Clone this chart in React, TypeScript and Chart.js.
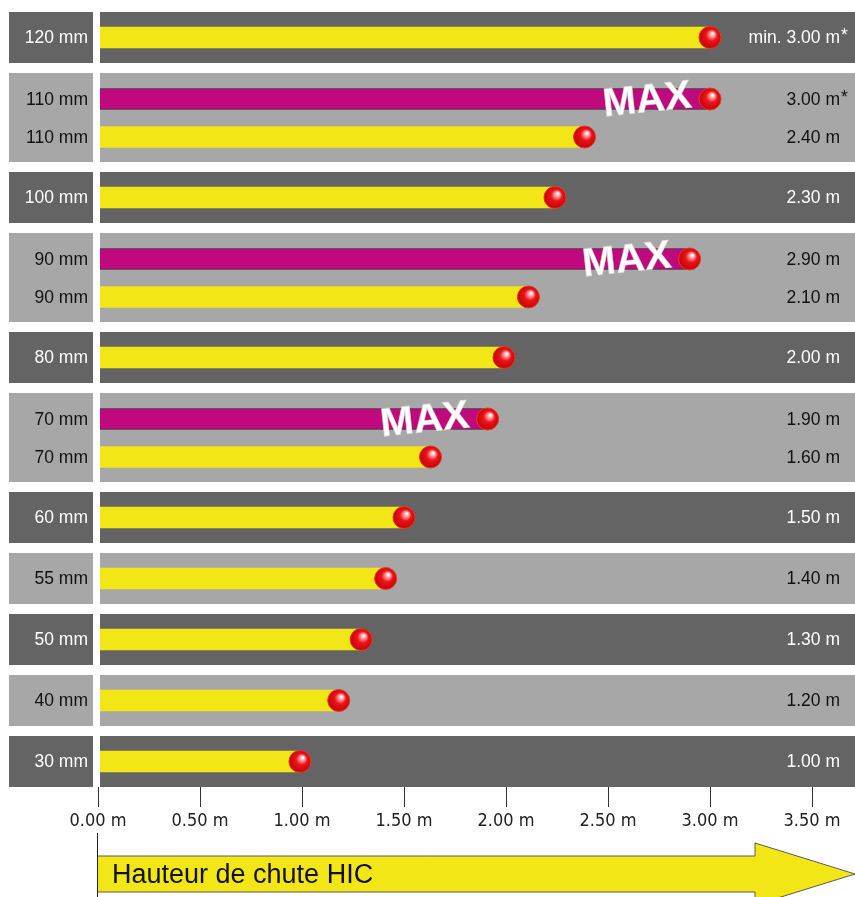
import React, { useEffect, useRef } from "react";
import { Chart, registerables } from "chart.js";

Chart.register(...registerables);

// ---- data ----
const thicknessLabels = [
  "120 mm", "110 mm", "110 mm", "100 mm", "90 mm", "90 mm", "80 mm",
  "70 mm", "70 mm", "60 mm", "55 mm", "50 mm", "40 mm", "30 mm",
];
const groupIndex = [0, 1, 1, 2, 3, 3, 4, 5, 5, 6, 7, 8, 9, 10];
const isMax = [false, true, false, false, true, false, false, true, false, false, false, false, false, false];
const dropHeights = [3.0, 3.0, 2.385, 2.24, 2.9, 2.11, 1.99, 1.91, 1.63, 1.5, 1.41, 1.29, 1.18, 0.99];
const valueLabels = [
  "min. 3.00 m*", "3.00 m*", "2.40 m", "2.30 m", "2.90 m", "2.10 m", "2.00 m",
  "1.90 m", "1.60 m", "1.50 m", "1.40 m", "1.30 m", "1.20 m", "1.00 m",
];
const tickValues = [0, 0.5, 1, 1.5, 2, 2.5, 3, 3.5];
const axisTitle = "Hauteur de chute HIC";
const maxWord = "MAX";

// ---- styling / layout ----
const FONT = '"Liberation Sans", Arial, Helvetica, sans-serif';
const NARROW = '"Liberation Sans Narrow", "DejaVu Sans Condensed", "Liberation Sans", sans-serif';
const DARK = "#646464";
const LIGHT = "#a7a7a7";
const YELLOW = "#f3e617";
const MAGENTA = "#c0097d";
const W = 855;
const H = 897;
const SINGLE = 5.1;
const DOUBLE = 8.9;
const GAP = 1.0;
const PAIR_OFFSETS = [-1.85, 1.95];
const PX_PER_M = 204;
const LEFT = 98;

function buildLayout() {
  const nGroups = Math.max(...groupIndex) + 1;
  const bands: { start: number; end: number; dark: boolean }[] = [];
  const centers: number[] = new Array(groupIndex.length).fill(0);
  let pos = 0;
  for (let g = 0; g < nGroups; g++) {
    const rows = groupIndex.map((gi, i) => (gi === g ? i : -1)).filter((i) => i >= 0);
    const h = rows.length === 1 ? SINGLE : DOUBLE;
    bands.push({ start: pos, end: pos + h, dark: g % 2 === 0 });
    if (rows.length === 1) centers[rows[0]] = pos + h / 2;
    else rows.forEach((r, k) => (centers[r] = pos + h / 2 + PAIR_OFFSETS[k]));
    pos += h + GAP;
  }
  return { bands, centers, total: pos - GAP };
}

export default function App() {
  const ref = useRef<HTMLCanvasElement | null>(null);

  useEffect(() => {
    if (!ref.current) return;
    const { bands, centers, total } = buildLayout();

    const decor = {
      id: "decor",
      beforeDatasetsDraw(chart: any) {
        const ctx = chart.ctx;
        const y = chart.scales.y;
        const a = chart.chartArea;
        ctx.save();
        bands.forEach((b) => {
          const t = y.getPixelForValue(b.start);
          const bt = y.getPixelForValue(b.end);
          ctx.fillStyle = b.dark ? DARK : LIGHT;
          ctx.fillRect(9, t, a.left - 14, bt - t);
          ctx.fillRect(a.left + 2, t, a.right - a.left - 2, bt - t);
        });
        ctx.restore();
        ctx.save();
        ctx.beginPath();
        ctx.rect(a.left + 2, a.top, a.right - a.left, a.bottom - a.top);
        ctx.clip();
      },
      afterDatasetsDraw(chart: any) {
        const ctx = chart.ctx;
        ctx.restore();
        const meta = chart.getDatasetMeta(0);
        const a = chart.chartArea;
        // labels
        ctx.save();
        ctx.textBaseline = "middle";
        ctx.font = `17.5px ${FONT}`;
        meta.data.forEach((el: any, i: number) => {
          const dark = bands[groupIndex[i]].dark;
          ctx.fillStyle = dark ? "#ffffff" : "#111111";
          ctx.textAlign = "right";
          ctx.fillText(thicknessLabels[i], a.left - 10, el.y + 1);
          const txt = valueLabels[i];
          const star = txt.endsWith("*");
          const base = star ? txt.slice(0, -1) : txt;
          ctx.fillText(base, a.right - 15, el.y + 1);
          if (star) {
            ctx.textAlign = "left";
            ctx.fillText("*", a.right - 14, el.y - 1);
          }
        });
        ctx.restore();
        // MAX words
        meta.data.forEach((el: any, i: number) => {
          if (!isMax[i]) return;
          ctx.save();
          ctx.translate(el.x - 63, el.y);
          ctx.rotate((-6 * Math.PI) / 180);
          ctx.font = `bold 40px ${FONT}`;
          ctx.textAlign = "center";
          ctx.textBaseline = "middle";
          ctx.fillStyle = "#ffffff";
          ctx.fillText(maxWord, 0, 2);
          ctx.strokeStyle = "rgba(215,215,215,0.7)";
          ctx.lineWidth = 0.8;
          ctx.strokeText(maxWord, 0, 2);
          ctx.restore();
        });
        // balls
        meta.data.forEach((el: any) => {
          const x = el.x;
          const yy = el.y;
          const r = 11;
          ctx.save();
          const g = ctx.createRadialGradient(x + 3, yy - 4, 0.5, x, yy, r + 1);
          g.addColorStop(0, "#ffffff");
          g.addColorStop(0.18, "#ff9c9c");
          g.addColorStop(0.45, "#ec1419");
          g.addColorStop(1, "#c0000a");
          ctx.beginPath();
          ctx.arc(x, yy, r, 0, Math.PI * 2);
          ctx.fillStyle = g;
          ctx.fill();
          ctx.lineWidth = 1;
          ctx.strokeStyle = "#e2401c";
          ctx.stroke();
          ctx.restore();
        });
      },
      afterDraw(chart: any) {
        const ctx = chart.ctx;
        const a = chart.chartArea;
        const x0 = a.left - 0.5;
        ctx.save();
        ctx.beginPath();
        ctx.moveTo(x0, 856);
        ctx.lineTo(755, 856);
        ctx.lineTo(755, 843);
        ctx.lineTo(855, 874);
        ctx.lineTo(755, 905);
        ctx.lineTo(755, 892);
        ctx.lineTo(x0, 892);
        ctx.closePath();
        ctx.fillStyle = YELLOW;
        ctx.fill();
        ctx.strokeStyle = "#5a5a5a";
        ctx.lineWidth = 1;
        ctx.stroke();
        ctx.beginPath();
        ctx.moveTo(x0, 833);
        ctx.lineTo(x0, H);
        ctx.strokeStyle = "#222";
        ctx.stroke();
        ctx.fillStyle = "#111";
        ctx.font = `27px ${FONT}`;
        ctx.textAlign = "left";
        ctx.textBaseline = "middle";
        ctx.fillText(axisTitle, a.left + 14, 876);
        ctx.restore();
      },
    };

    const chart = new Chart(ref.current, {
      type: "bar",
      data: {
        datasets: [
          {
            data: dropHeights.map((v, i) => ({ x: v, y: centers[i] })),
            backgroundColor: isMax.map((m) => (m ? MAGENTA : YELLOW)),
            borderColor: isMax.map((m) => (m ? "#3b1030" : YELLOW)),
            borderWidth: isMax.map((m) => (m ? 1 : 0)),
            borderSkipped: false,
            barThickness: 21,
          } as any,
        ],
      },
      options: {
        indexAxis: "y",
        animation: false,
        responsive: false,
        devicePixelRatio: 1,
        layout: { padding: { top: 12, left: LEFT, right: 0, bottom: 0 } },
        plugins: { legend: { display: false }, tooltip: { enabled: false } },
        scales: {
          y: {
            type: "linear",
            display: false,
            min: 0,
            max: total,
            reverse: true,
            offset: false,
          },
          x: {
            type: "linear",
            min: 0,
            max: (W - LEFT) / PX_PER_M,
            afterBuildTicks: (s: any) => {
              s.ticks = tickValues.map((v) => ({ value: v }));
            },
            afterFit: (s: any) => {
              s.height = 110;
            },
            ticks: {
              autoSkip: false,
              maxRotation: 0,
              padding: 4,
              color: "#222",
              font: { family: NARROW, size: 18 },
              callback: (v: any) => Number(v).toFixed(2) + " m",
            },
            grid: { drawOnChartArea: false, drawTicks: true, tickLength: 20, color: "#333", lineWidth: 1 },
            border: { display: false },
          },
        },
      } as any,
      plugins: [decor],
    });
    return () => chart.destroy();
  }, []);

  return (
    <div style={{ position: "fixed", left: 0, top: 0, width: W, height: H, background: "#fff" }}>
      <canvas ref={ref} width={W} height={H} style={{ display: "block", width: W, height: H }} />
    </div>
  );
}
